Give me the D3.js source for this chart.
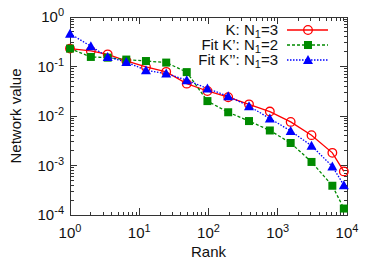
<!DOCTYPE html>
<meta charset="utf-8">
<head>
<style>
  body { margin: 0; background: #fff; }
  text { font-family: "Liberation Sans", Arial, sans-serif; fill: #111; }
  .frame { fill: none; stroke: #333; stroke-width: 1; }
</style>
<script src="https://d3js.org/d3.v7.min.js"></script>
</head>
<body>
<script>
// ranks (bin centres) shared by all series
var ranks = [1, 2, 3.5, 6.5, 12.5, 24.5, 48.5, 96.5, 192.5, 384.5, 768.5, 1536.5, 3072.5, 6144.5, 9000];
var valK   = [0.23, 0.206, 0.176, 0.13, 0.098, 0.078, 0.045, 0.032, 0.024, 0.0172, 0.0123, 0.0076, 0.0041, 0.0018, 0.00076];
var valFit2 = [0.23, 0.156, 0.151, 0.138, 0.129, 0.12, 0.077, 0.020, 0.0119, 0.0079, 0.0051, 0.00285, 0.00118, 0.00039, 0.000135];
var valFit3 = [0.46, 0.257, 0.156, 0.123, 0.084, 0.072, 0.053, 0.036, 0.025, 0.0158, 0.0089, 0.0050, 0.0025, 0.00096, 0.0004];
var xTicks = [1, 10, 100, 1000, 10000];
var yTicks = [1, 0.1, 0.01, 0.001, 0.0001];

var series = [
  {name: "K: N", sub: "1", tail: "=3", vals: valK, color: "#ff0000", dash: null, shape: "circle"},
  {name: "Fit K\u2019: N", sub: "1", tail: "=2", vals: valFit2, color: "#008a00", dash: "3,2", shape: "square"},
  {name: "Fit K\u2019\u2019: N", sub: "1", tail: "=3", vals: valFit3, color: "#0000ff", dash: "1.5,1.5", shape: "triangle"}
];

var W = 374, H = 262;
var margin = {top: 17, right: 27, bottom: 47, left: 70};
var width = W - margin.left - margin.right,
    height = H - margin.top - margin.bottom;

var svg = d3.select("body").append("svg")
    .attr("width", W).attr("height", H);
var g = svg.append("g")
    .attr("transform", "translate(" + margin.left + "," + margin.top + ")");

var x = d3.scaleLog().domain([1, 10000]).range([0, width]);
var y = d3.scaleLog().domain([0.0001, 1]).range([height, 0]);

// minor tick positions
var xMinor = [], yMinor = [];
for (var e = 0; e < 4; e++) for (var m = 2; m < 10; m++) xMinor.push(m * Math.pow(10, e));
for (var e = -4; e < 0; e++) for (var m = 2; m < 10; m++) yMinor.push(m * Math.pow(10, e));

function ticks(sel, scale, vals, len, horiz) {
  sel.selectAll(null).data(vals).enter().append("line")
    .attr("stroke", "#333")
    .attr("x1", function(d) { return horiz ? scale(d) : 0; })
    .attr("x2", function(d) { return horiz ? scale(d) : len; })
    .attr("y1", function(d) { return horiz ? height : scale(d); })
    .attr("y2", function(d) { return horiz ? height - len : scale(d); });
  sel.selectAll(null).data(vals).enter().append("line")
    .attr("stroke", "#333")
    .attr("x1", function(d) { return horiz ? scale(d) : width; })
    .attr("x2", function(d) { return horiz ? scale(d) : width - len; })
    .attr("y1", function(d) { return horiz ? 0 : scale(d); })
    .attr("y2", function(d) { return horiz ? len : scale(d); });
}
var tg = g.append("g").attr("shape-rendering", "crispEdges");
ticks(tg, x, xTicks, 7, true);
ticks(tg, x, xMinor, 3.5, true);
ticks(tg, y, yTicks, 7, false);
ticks(tg, y, yMinor, 3.5, false);

g.append("rect").attr("class", "frame")
  .attr("shape-rendering", "crispEdges")
  .attr("width", width).attr("height", height);

// tick labels
g.selectAll(".xl").data(xTicks).enter().append("text")
  .attr("x", function(d) { return x(d); })
  .attr("y", height + 23)
  .attr("text-anchor", "middle")
  .style("font-size", "15px")
  .each(function(d) {
    var t = d3.select(this);
    t.append("tspan").text("10");
    t.append("tspan").attr("dy", -6).style("font-size", "11px").text(Math.round(Math.log10(d)));
  });

g.selectAll(".yl").data(yTicks).enter().append("text")
  .attr("x", -6)
  .attr("y", function(d) { return y(d) + 5; })
  .attr("text-anchor", "end")
  .style("font-size", "15px")
  .each(function(d) {
    var t = d3.select(this);
    t.append("tspan").text("10");
    t.append("tspan").attr("dy", -6).style("font-size", "11px").text(Math.round(Math.log10(d)));
  });

// axis titles
svg.append("text")
  .attr("x", margin.left + width / 2).attr("y", 257)
  .attr("text-anchor", "middle").style("font-size", "15px").text("Rank");
svg.append("text")
  .attr("transform", "translate(21," + (margin.top + height / 2) + ") rotate(-90)")
  .attr("text-anchor", "middle").style("font-size", "15px").text("Network value");

function marker(sel, s, cx, cy) {
  if (s.shape === "circle") {
    sel.append("circle").attr("cx", cx).attr("cy", cy).attr("r", 4.3)
      .attr("fill", "none").attr("stroke", s.color).attr("stroke-width", 1.3);
  } else if (s.shape === "square") {
    sel.append("rect").attr("x", cx - 4).attr("y", cy - 4)
      .attr("width", 8).attr("height", 8).attr("fill", s.color);
  } else {
    sel.append("path")
      .attr("d", "M" + cx + "," + (cy - 5) + "L" + (cx + 5) + "," + (cy + 4) + "L" + (cx - 5) + "," + (cy + 4) + "Z")
      .attr("fill", s.color);
  }
}

var line = d3.line()
  .x(function(d) { return x(d[0]); })
  .y(function(d) { return y(d[1]); });

var plot = g.append("g");
series.forEach(function(s) {
  var pts = ranks.map(function(r, i) { return [r, s.vals[i]]; });
  plot.append("path").datum(pts)
    .attr("d", line)
    .attr("fill", "none")
    .attr("stroke", s.color)
    .attr("stroke-width", 1.3)
    .attr("stroke-dasharray", s.dash);
});
series.forEach(function(s) {
  var mg = plot.append("g");
  ranks.forEach(function(r, i) { marker(mg, s, x(r), y(s.vals[i])); });
});

// legend
var leg = svg.append("g");
series.forEach(function(s, i) {
  var ly = 30 + i * 15;
  var t = leg.append("text")
    .attr("x", 278).attr("y", ly + 5)
    .attr("text-anchor", "end").style("font-size", "15px");
  t.append("tspan").text(s.name);
  t.append("tspan").attr("dy", 3).style("font-size", "11px").text(s.sub);
  t.append("tspan").attr("dy", -3).text(s.tail);
  leg.append("line")
    .attr("x1", 287).attr("x2", 328).attr("y1", ly).attr("y2", ly)
    .attr("stroke", s.color).attr("stroke-width", 1.3)
    .attr("stroke-dasharray", s.dash);
  marker(leg, s, 308, ly);
});
</script>
</body>
